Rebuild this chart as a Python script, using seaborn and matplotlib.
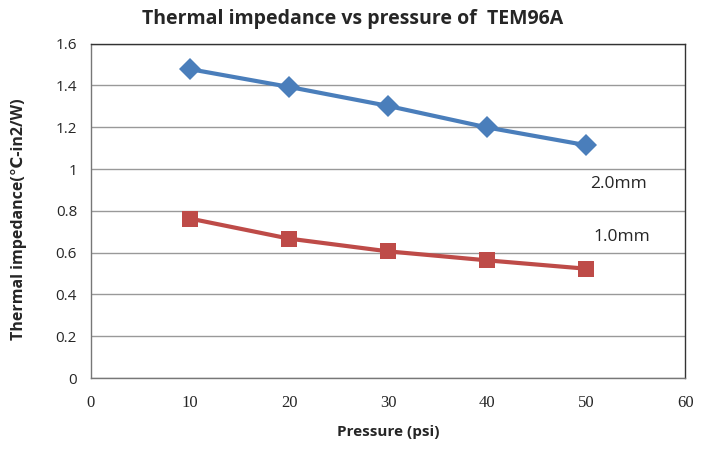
import matplotlib
matplotlib.use("Agg")
import matplotlib.pyplot as plt
import seaborn as sns
import pandas as pd

# ── Data ─────────────────────────────────────────────────────────
pressure = [10, 20, 30, 40, 50]
imp_2mm = [1.478, 1.393, 1.302, 1.199, 1.114]
imp_1mm = [0.763, 0.667, 0.606, 0.563, 0.523]
series_names = ["2.0mm", "1.0mm"]
x_ticks = [0, 10, 20, 30, 40, 50, 60]
y_ticks = [0, 0.2, 0.4, 0.6, 0.8, 1, 1.2, 1.4, 1.6]
y_ticklabels = ["0", "0.2", "0.4", "0.6", "0.8", "1", "1.2", "1.4", "1.6"]

df = pd.DataFrame({
    "Pressure": pressure * 2,
    "Impedance": imp_2mm + imp_1mm,
    "Thickness": [series_names[0]] * 5 + [series_names[1]] * 5,
})

sns.set_style("white")
plt.rcParams["font.family"] = ["Open Sans", "DejaVu Sans"]

fig = plt.figure(figsize=(7.05, 4.5), dpi=100)
ax = fig.add_axes([0.129, 0.16, 0.843, 0.743])

palette = {"2.0mm": "#4A7EBB", "1.0mm": "#BE4B48"}
markers = {"2.0mm": "D", "1.0mm": "s"}
sns.lineplot(data=df, x="Pressure", y="Impedance", hue="Thickness",
             style="Thickness", markers=markers, dashes=False,
             palette=palette, linewidth=3, markersize=11,
             markeredgewidth=0, legend=False, ax=ax, zorder=3)

ax.set_xlim(0, 60)
ax.set_ylim(0, 1.6)
ax.set_xticks(x_ticks)
ax.set_xticklabels([str(t) for t in x_ticks], family="Liberation Serif", fontsize=12)
ax.set_yticks(y_ticks)
ax.set_yticklabels(y_ticklabels, fontsize=11)
ax.tick_params(axis="x", direction="in", length=5, pad=12, color="#555555")
ax.tick_params(axis="y", direction="out", length=4, pad=6, color="#555555")
ax.yaxis.grid(True, color="#999999", linewidth=1)
ax.xaxis.grid(False)
for side in ["top", "right", "bottom", "left"]:
    ax.spines[side].set_visible(True)
    ax.spines[side].set_color("#333333")
    ax.spines[side].set_linewidth(1)
ax.spines["left"].set_color("#777777")
ax.spines["bottom"].set_color("#777777")

ax.set_xlabel("Pressure (psi)", fontsize=11, fontweight="bold", labelpad=10)
ax.set_ylabel("Thermal impedance(\u2103-in2/W)", fontsize=11.5, fontweight="bold")
ax.yaxis.set_label_coords(-0.107, 0.475)
fig.text(0.5, 0.957, "Thermal impedance vs pressure of  TEM96A", fontsize=14,
         fontweight="bold", ha="center", va="center")

ax.text(50.4, 0.93, "2.0mm", fontsize=12.5, va="center", ha="left")
ax.text(50.7, 0.675, "1.0mm", fontsize=12.5, va="center", ha="left")

fig.savefig("out.png", dpi=100)
